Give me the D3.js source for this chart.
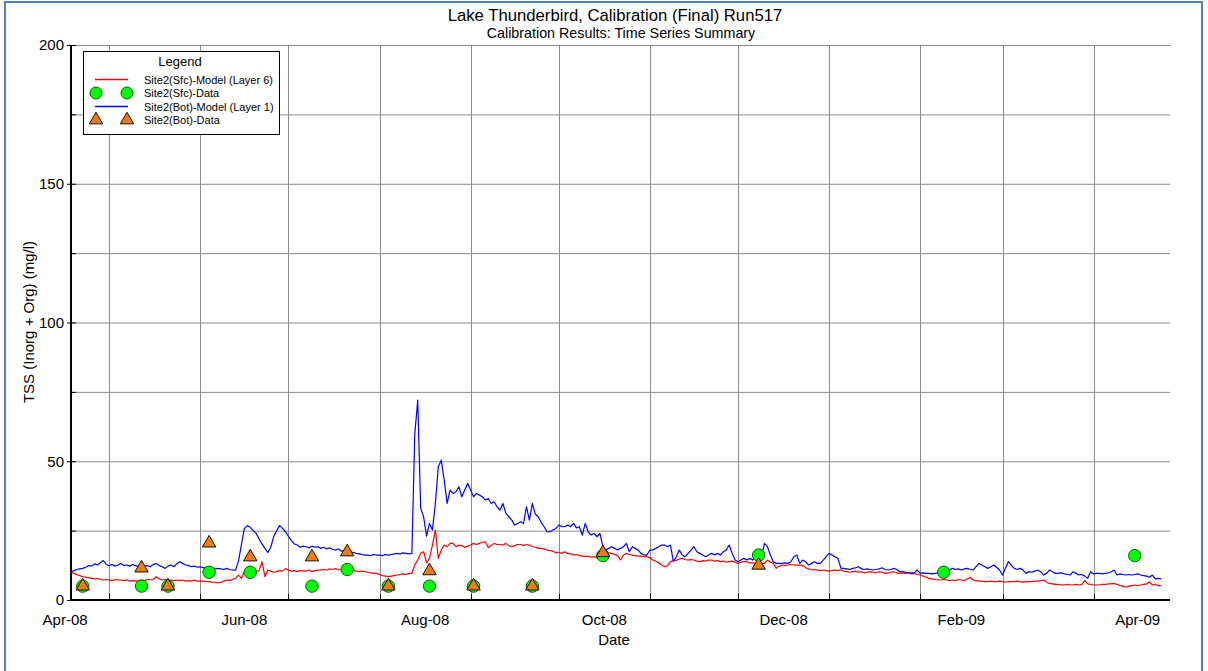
<!DOCTYPE html>
<html><head><meta charset="utf-8">
<script src="https://cdn.jsdelivr.net/npm/d3@7"></script>
<style>
html,body{margin:0;padding:0;background:#fff;}
svg{display:block;font-family:"Liberation Sans",Arial,sans-serif;}
</style></head><body>
<svg id="chart" width="1208" height="671"></svg>
<script>
// ---------------- DATA ----------------
const modelStart = "2008-04-18"; // daily model output starts here
// Site2(Bot)-Model (Layer 1), daily
const botModel = [
 10.2,10.6,11.0,11.2,11.4,11.8,12.4,12.2,13.0,12.6,
 13.4,14.2,12.8,12.4,12.8,12.2,12.6,13.2,12.4,12.6,
 12.2,12.8,12.4,12.0,12.6,12.2,12.4,12.0,12.8,13.2,
 12.4,12.0,11.4,12.2,12.6,12.0,13.0,13.8,13.2,12.6,
 12.4,12.0,12.2,11.8,12.0,11.6,11.8,11.4,11.6,11.2,
 11.4,11.2,11.0,11.4,11.0,10.8,10.8,14.0,20.0,25.8,
 26.8,26.2,25.0,24.0,22.0,20.2,18.6,17.1,19.0,22.9,
 25.0,26.8,25.8,24.6,22.9,21.4,20.2,19.8,19.0,19.4,
 19.2,18.8,19.4,19.0,19.2,18.6,19.0,18.4,18.8,18.2,
 18.0,18.4,17.6,17.8,17.4,17.2,17.2,16.8,16.6,16.4,
 16.2,16.2,16.0,16.4,16.2,16.2,16.0,16.4,16.2,16.4,
 16.6,16.8,16.6,17.0,16.8,16.6,16.8,60.0,72.0,33.0,
 30.0,23.0,27.6,25.2,34.8,48.0,50.4,43.2,34.8,39.6,
 38.4,39.0,40.8,37.2,39.6,42.0,39.6,37.2,38.4,37.8,
 37.2,36.0,36.6,34.8,35.4,33.6,32.4,34.8,31.2,30.0,
 28.8,27.0,27.6,28.2,27.6,33.6,28.8,34.8,31.0,30.0,
 28.0,26.4,24.6,24.6,25.2,25.8,27.0,26.4,26.4,27.0,
 26.4,27.6,26.0,26.4,23.4,27.6,24.6,23.4,24.0,22.8,
 24.0,19.2,18.0,18.6,19.2,18.6,18.0,18.6,19.2,20.4,
 17.4,19.2,18.6,18.0,16.8,16.2,16.2,18.0,18.0,18.6,
 19.2,19.8,19.8,19.2,19.8,13.8,15.6,18.0,16.2,15.6,
 16.8,18.0,19.2,17.4,16.8,16.2,15.6,16.2,16.8,16.2,
 16.8,16.2,17.4,18.0,19.8,16.8,14.4,13.8,14.4,15.0,
 14.4,15.0,14.4,15.6,14.4,15.6,20.4,19.2,16.2,13.8,
 13.2,13.2,13.2,13.4,13.2,13.8,15.6,16.2,13.2,14.4,
 13.8,12.6,13.2,13.8,13.2,13.2,14.4,15.6,16.8,16.2,
 15.6,15.0,11.5,11.4,11.2,11.0,11.4,11.6,12.0,11.2,
 11.0,11.2,11.0,10.8,11.0,11.2,11.6,11.0,10.8,11.0,
 11.4,11.0,10.2,10.2,10.0,9.8,9.8,9.8,10.8,9.6,
 9.8,9.6,9.6,9.4,9.6,9.8,9.6,10.2,10.4,10.8,
 11.4,11.0,11.2,10.8,11.2,11.4,11.0,10.8,12.0,13.2,
 12.6,12.0,11.4,12.0,12.6,11.8,10.8,9.0,11.4,13.8,
 12.6,11.4,11.0,11.4,10.8,9.6,10.2,10.0,10.4,10.8,
 10.2,9.0,9.6,10.8,10.2,9.6,9.6,9.8,9.4,9.2,
 9.0,10.2,9.6,9.0,9.2,8.6,7.8,10.2,9.4,9.6,
 9.6,9.4,9.6,9.8,10.2,10.8,9.0,9.4,9.2,9.0,
 9.2,9.0,9.2,9.4,9.0,8.8,8.6,8.2,9.0,7.6,
 7.8,7.6
];
// Site2(Sfc)-Model (Layer 6), daily
const sfcModel = [
 10.0,9.6,9.2,8.8,8.4,8.2,8.0,7.8,7.6,7.8,
 7.4,7.2,7.4,7.2,7.0,7.4,7.2,7.2,7.0,7.2,
 6.8,7.0,6.8,7.0,7.2,7.0,7.4,7.2,7.4,8.4,
 7.6,7.2,7.4,7.0,7.2,7.0,7.2,7.0,7.2,6.8,
 7.0,6.8,7.2,6.8,6.8,6.8,6.6,6.6,6.4,6.4,
 6.2,6.4,6.8,7.2,7.0,7.4,7.8,9.0,7.8,10.2,
 9.6,10.4,10.8,10.2,10.6,13.8,8.4,10.8,10.4,10.0,
 10.2,10.6,10.4,11.3,10.8,10.4,10.6,10.2,10.6,10.5,
 10.4,10.8,10.2,10.6,10.8,10.8,11.0,10.8,11.2,11.0,
 11.3,11.0,10.8,11.0,10.6,10.4,10.8,10.4,10.2,10.4,
 10.2,10.0,9.8,9.6,9.6,9.2,8.8,8.6,8.4,8.6,
 8.8,9.0,9.2,9.4,9.2,9.6,9.6,12.6,14.4,16.8,
 17.4,13.4,15.0,19.8,25.2,15.0,18.0,19.8,19.2,20.4,
 20.4,19.2,19.8,19.6,18.9,19.4,19.8,20.4,20.0,20.4,
 20.8,21.0,18.9,19.6,20.4,20.0,20.0,19.8,20.4,19.6,
 19.2,19.6,20.0,20.0,19.6,20.0,19.8,19.2,19.0,18.6,
 18.6,18.4,18.0,17.8,17.6,17.0,17.2,16.8,17.4,16.8,
 16.6,16.2,16.4,16.0,15.8,15.6,15.8,15.4,15.6,15.2,
 15.0,15.6,17.4,17.0,16.8,16.4,16.0,14.4,16.2,16.8,
 16.4,16.2,16.0,15.8,15.8,15.6,15.6,15.2,14.4,14.0,
 13.4,12.6,12.0,12.4,13.8,14.4,14.2,14.8,15.0,14.6,
 14.4,14.6,14.4,14.0,13.8,14.2,14.0,14.4,14.4,14.0,
 14.2,13.8,14.0,13.6,13.8,14.0,13.6,13.2,13.6,13.8,
 13.8,13.4,13.4,13.2,13.4,13.2,13.2,14.4,13.6,13.2,
 11.4,12.2,12.6,12.4,12.6,12.8,12.6,12.6,12.6,12.4,
 11.6,11.2,10.9,11.0,10.8,10.6,10.8,10.6,10.4,10.6,
 10.8,10.6,10.9,10.4,10.2,10.0,10.2,10.4,10.0,10.2,
 9.8,10.0,10.2,10.0,9.8,10.2,10.0,9.6,9.8,10.0,
 10.2,9.8,9.6,9.8,9.6,9.8,9.4,9.6,9.2,9.0,
 8.6,8.2,7.8,7.6,7.4,7.2,7.2,7.4,7.2,7.0,
 7.2,7.0,7.4,7.2,7.0,7.6,8.2,7.2,7.0,6.8,
 6.8,6.6,6.6,6.8,6.6,6.6,6.8,6.6,6.4,6.6,
 6.6,6.6,6.8,6.6,6.4,6.6,6.6,6.6,6.8,6.8,
 7.0,7.2,6.4,6.0,5.8,5.6,5.6,5.4,5.4,5.6,
 5.4,5.4,5.6,5.4,5.6,7.0,5.8,5.6,5.4,5.4,
 5.4,5.6,5.6,5.8,5.8,6.0,5.6,5.2,5.0,4.6,
 5.0,5.2,5.4,5.2,5.4,5.6,5.8,6.6,5.4,5.6,
 5.2,5.2
];
// Site2(Sfc)-Data
const sfcDates  = ["2008-04-22","2008-05-12","2008-05-21","2008-06-04","2008-06-18","2008-07-09","2008-07-21","2008-08-04","2008-08-18","2008-09-02","2008-09-22","2008-10-16","2008-12-08","2009-02-09","2009-04-15"];
const sfcValues = [5, 5, 5, 10, 10, 5, 11, 5, 5, 5, 5, 16, 16.2, 10, 16];
// Site2(Bot)-Data
const botDates  = ["2008-04-22","2008-05-12","2008-05-21","2008-06-04","2008-06-18","2008-07-09","2008-07-21","2008-08-04","2008-08-18","2008-09-02","2008-09-22","2008-10-16","2008-12-08"];
const botValues = [5, 11.5, 5, 20.5, 15.5, 15.5, 17.3, 5, 10.5, 5, 5, 17, 12.5];

const xLabelMonths = ["2008-04","2008-06","2008-08","2008-10","2008-12","2009-02","2009-04"];
const xLabelText   = ["Apr-08","Jun-08","Aug-08","Oct-08","Dec-08","Feb-09","Apr-09"];
const yLabelTicks  = [0, 50, 100, 150, 200];
const yGridTicks   = [25, 50, 75, 100, 125, 150, 175, 200];
const legendLabels = ["Site2(Sfc)-Model (Layer 6)","Site2(Sfc)-Data","Site2(Bot)-Model (Layer 1)","Site2(Bot)-Data"];
const legendColors = ["#ff0000", null, "#0000ff", null];

const titleText = "Lake Thunderbird, Calibration (Final) Run517";
const subtitleText = "Calibration Results: Time Series Summary";
const xTitle = "Date";
const yTitle = "TSS (Inorg + Org) (mg/l)";

// ---------------- CHART ----------------
const parseDay = d3.timeParse("%Y-%m-%d");
const parseMonth = d3.timeParse("%Y-%m");
const svg = d3.select("#chart");
const m = {left: 71, right: 1170, top: 45, bottom: 600};

const x = d3.scaleTime()
  .domain([parseDay("2008-04-18"), parseDay("2009-04-27")])
  .range([m.left, m.right]);
const y = d3.scaleLinear().domain([0, 200]).range([m.bottom, m.top]);

// outer frame
svg.append("rect").attr("x", 5).attr("y", 2).attr("width", 1197).attr("height", 700)
  .attr("fill", "none").attr("stroke", "#4f7fbf").attr("stroke-width", 2);

// grid
const gridG = svg.append("g");
gridG.selectAll("line.h").data(yGridTicks).join("line")
  .attr("x1", m.left).attr("x2", m.right)
  .attr("y1", d => y(d) + 0.5).attr("y2", d => y(d) + 0.5)
  .attr("stroke", "#8c8c8c").attr("stroke-width", 1);
const months = d3.timeMonth.range(x.domain()[0], x.domain()[1]);
gridG.selectAll("line.v").data(months).join("line")
  .attr("x1", d => Math.round(x(d)) + 0.5).attr("x2", d => Math.round(x(d)) + 0.5)
  .attr("y1", m.top).attr("y2", m.bottom)
  .attr("stroke", "#8c8c8c").attr("stroke-width", 1);

// x ticks (month starts, inward)
svg.append("g").selectAll("line").data(months).join("line")
  .attr("x1", d => Math.round(x(d)) + 0.5).attr("x2", d => Math.round(x(d)) + 0.5)
  .attr("y1", m.bottom - 6).attr("y2", m.bottom)
  .attr("stroke", "#000").attr("stroke-width", 1);
// y minor ticks inward
svg.append("g").selectAll("line").data(yGridTicks).join("line")
  .attr("x1", m.left).attr("x2", m.left + 5)
  .attr("y1", d => y(d) + 0.5).attr("y2", d => y(d) + 0.5)
  .attr("stroke", "#000");

// y axis (labels)
const yAxis = d3.axisLeft(y).tickValues(yLabelTicks).tickSize(4).tickSizeOuter(0).tickPadding(3);
const yg = svg.append("g").attr("transform", `translate(${m.left},0)`).call(yAxis);
yg.select(".domain").remove();
yg.selectAll("text").attr("font-size", 15).attr("font-family", "Liberation Sans, Arial, sans-serif").attr("fill", "#000");
yg.selectAll("line").attr("stroke", "#000");

// x labels centred in month intervals
svg.append("g").selectAll("text").data(xLabelMonths).join("text")
  .attr("x", (d) => { const s = parseMonth(d); return (x(s) + x(d3.timeMonth.offset(s, 1))) / 2; })
  .attr("y", 625)
  .attr("text-anchor", "middle").attr("font-size", 15)
  .text((d, i) => xLabelText[i]);

// axis lines
svg.append("line").attr("x1", m.left).attr("x2", m.left).attr("y1", m.top).attr("y2", m.bottom + 1)
  .attr("stroke", "#000").attr("stroke-width", 2);
svg.append("line").attr("x1", m.left - 1).attr("x2", m.right).attr("y1", m.bottom).attr("y2", m.bottom)
  .attr("stroke", "#000").attr("stroke-width", 2);

// titles
svg.append("text").attr("x", 615).attr("y", 21).attr("text-anchor", "middle")
  .attr("font-size", 16.7).text(titleText);
svg.append("text").attr("x", 621).attr("y", 38).attr("text-anchor", "middle")
  .attr("font-size", 14.3).text(subtitleText);
svg.append("text").attr("x", 614).attr("y", 645).attr("text-anchor", "middle").attr("font-size", 15).text(xTitle);
svg.append("text").attr("transform", "translate(34,322) rotate(-90)").attr("text-anchor", "middle")
  .attr("font-size", 15).text(yTitle);

// model lines
const t0 = parseDay(modelStart);
const line = d3.line().x((d, i) => x(d3.timeDay.offset(t0, i))).y(d => y(d));
const plot = svg.append("g");
plot.append("path").datum(sfcModel).attr("d", line).attr("fill", "none")
  .attr("stroke", "#ff0000").attr("stroke-width", 1.2).attr("stroke-linejoin", "round");
plot.append("path").datum(botModel).attr("d", line).attr("fill", "none")
  .attr("stroke", "#0000ff").attr("stroke-width", 1.2).attr("stroke-linejoin", "round");

// markers
const tri = d3.symbol().type(d3.symbolTriangle).size(78);
const circColor = "#00ff00", circStroke = "#135a13";
const triColor = "#f07c0a", triStroke = "#111";
plot.selectAll("circle.sfc").data(sfcDates).join("circle")
  .attr("cx", d => x(parseDay(d))).attr("cy", (d, i) => y(sfcValues[i])).attr("r", 6.2)
  .attr("fill", circColor).attr("stroke", circStroke).attr("stroke-width", 1);
plot.selectAll("path.bot").data(botDates).join("path")
  .attr("d", tri).attr("transform", (d, i) => `translate(${x(parseDay(d))},${y(botValues[i])})`)
  .attr("fill", triColor).attr("stroke", triStroke).attr("stroke-width", 1);

// legend
const lg = svg.append("g");
lg.append("rect").attr("x", 83.5).attr("y", 51.5).attr("width", 196).attr("height", 83)
  .attr("fill", "#fff").attr("stroke", "#000").attr("stroke-width", 1);
lg.append("text").attr("x", 180).attr("y", 65.5).attr("text-anchor", "middle").attr("font-size", 13).text("Legend");
const rowsY = [79.5, 93, 106.5, 120];
legendLabels.forEach((lab, i) => {
  const yy = rowsY[i];
  if (legendColors[i]) {
    lg.append("line").attr("x1", 95).attr("x2", 128).attr("y1", yy).attr("y2", yy)
      .attr("stroke", legendColors[i]).attr("stroke-width", 1.4);
  } else if (i === 1) {
    [96, 127].forEach(cx => lg.append("circle").attr("cx", cx).attr("cy", yy).attr("r", 6)
      .attr("fill", circColor).attr("stroke", circStroke));
  } else {
    [96, 127].forEach(cx => lg.append("path").attr("d", tri).attr("transform", `translate(${cx},${yy})`)
      .attr("fill", triColor).attr("stroke", triStroke));
  }
  lg.append("text").attr("x", 144).attr("y", yy + 4).attr("font-size", 11).text(lab);
});
</script>
</body></html>
